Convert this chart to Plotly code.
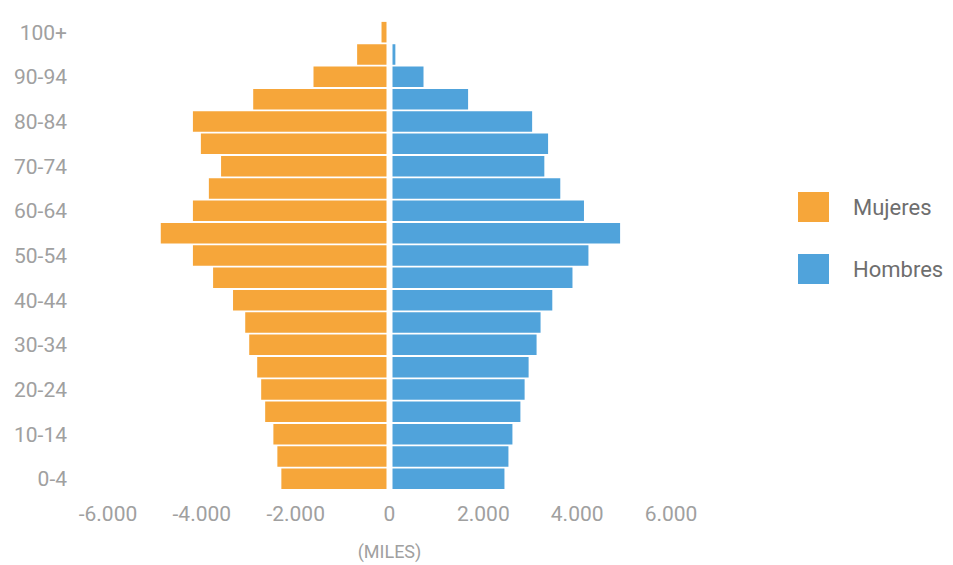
import plotly.graph_objects as go

age_groups = ["0-4", "5-9", "10-14", "15-19", "20-24", "25-29", "30-34", "35-39",
              "40-44", "45-49", "50-54", "55-59", "60-64", "65-69", "70-74",
              "75-79", "80-84", "85-89", "90-94", "95-99", "100+"]
mujeres = [2305, 2390, 2475, 2650, 2735, 2820, 2990, 3075, 3335, 3760, 4190,
           4875, 4190, 3850, 3590, 4020, 4190, 2905, 1620, 690, 170]
hombres = [2450, 2535, 2620, 2790, 2880, 2965, 3135, 3220, 3470, 3900, 4240,
           4915, 4145, 3640, 3300, 3380, 3040, 1675, 725, 125, 30]
x_ticks = [-6000, -4000, -2000, 0, 2000, 4000, 6000]
x_tick_labels = ["-6.000", "-4.000", "-2.000", "0", "2.000", "4.000", "6.000"]
series_names = ["Mujeres", "Hombres"]
colors = ["#F6A63A", "#50A3DB"]

W, H = 953, 565
ML, MR, MT, MB = 108, 282, 21, 75
PW, PH = W - ML - MR, H - MT - MB

fig = go.Figure()
fig.add_trace(go.Bar(y=age_groups, x=[-v for v in mujeres], orientation="h",
                     name=series_names[0], marker=dict(color=colors[0], line=dict(width=0)),
                     showlegend=False, hoverinfo="skip"))
fig.add_trace(go.Bar(y=age_groups, x=hombres, orientation="h",
                     name=series_names[1], marker=dict(color=colors[1], line=dict(width=0)),
                     showlegend=False, hoverinfo="skip"))

def px2x(px):
    return (px - ML) / PW

def py2y(py):
    return (H - MB - py) / PH

# white separator along the zero line
shapes = [dict(type="line", xref="x", yref="paper", x0=0, x1=0, y0=0, y1=1,
               line=dict(color="white", width=6), layer="above")]
annotations = []
# custom legend with large swatches
legend_rows = [(192, 222), (254, 284)]
for name, col, (y0, y1) in zip(series_names, colors, legend_rows):
    shapes.append(dict(type="rect", xref="paper", yref="paper",
                       x0=px2x(798), x1=px2x(829), y0=py2y(y1), y1=py2y(y0),
                       fillcolor=col, line=dict(width=0)))
    annotations.append(dict(xref="paper", yref="paper", x=px2x(851), y=py2y((y0 + y1) / 2),
                            text=name, showarrow=False, xanchor="left", yanchor="middle",
                            font=dict(family="Roboto", size=22, color="#6e6e6e")))

fig.update_layout(
    width=W, height=H,
    margin=dict(l=ML, r=MR, t=MT, b=MB, pad=0, autoexpand=False),
    barmode="relative", bargap=0.08,
    plot_bgcolor="white", paper_bgcolor="white",
    font=dict(family="Roboto", color="#a0a0a0"),
    shapes=shapes, annotations=annotations,
    xaxis=dict(range=[-6000, 6000], tickvals=x_ticks, ticktext=x_tick_labels,
               showgrid=False, zeroline=False, automargin=False,
               showline=False, ticks="",
               tickfont=dict(family="Roboto", size=21, color="#a0a0a0"),
               ticklabelstandoff=9,
               title=dict(text="(MILES)", standoff=20,
                          font=dict(family="Roboto", size=18, color="#a0a0a0"))),
    yaxis=dict(categoryorder="array", categoryarray=age_groups, automargin=False,
               tickvals=age_groups[::2], showgrid=False, zeroline=False,
               showline=False, ticks="", ticklabelstandoff=40,
               tickfont=dict(family="Roboto", size=21, color="#a0a0a0")),
)

fig.write_html("out.html")
